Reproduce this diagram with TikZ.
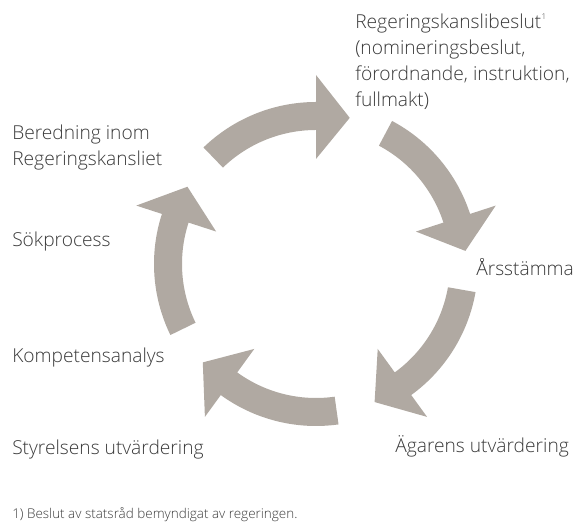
\documentclass[tikz,border=0pt]{standalone}
\usepackage{fontspec}
\IfFontExistsTF{Open Sans Light}{\setmainfont{Open Sans Light}}{\setmainfont{Open Sans}}
\definecolor{band}{RGB}{176,169,162}
\definecolor{ink}{RGB}{58,58,58}
\begin{document}
\begin{tikzpicture}[x=0.75pt,y=0.75pt,
  lbl/.style={anchor=base west, inner sep=0pt, text=ink, align=left,
    font=\fontsize{14.4}{19.5}\selectfont},
  note/.style={anchor=base west, inner sep=0pt, text=ink,
    font=\fontsize{10.1}{12}\selectfont}]
\useasboundingbox (0,0) rectangle (575,527);

% five curved arrows forming the cycle
\foreach \k in {0,...,4}{
  \pgfmathsetmacro\ta{134-72*\k}
  \pgfmathsetmacro\tb{90-72*\k}
  \pgfmathsetmacro\tc{77-72*\k}
  \fill[band, shift={(316,263)}]
    (\ta:162) arc[start angle=\ta, end angle=\tb, radius=162]
    -- (\tb:189) -- (\tc:150) -- (\tb:105) -- (\tb:134)
    arc[start angle=\tb, end angle=\ta, radius=134] -- cycle;
}

% stage labels (multi-line nodes sit on the baseline of their last line)
\node[lbl] (rkb) at (355,420) {Regeringskanslibeslut\kern0.3pt\raisebox{0.9ex}{\fontsize{6}{6}\selectfont 1}\\(nomineringsbeslut,\\förordnande, instruktion,\\fullmakt)};
\node[lbl] (ars) at (476,251) {Årsstämma};
\node[lbl] (agu) at (395,74) {Ägarens utvärdering};
\node[lbl] (sty) at (12,72) {Styrelsens utvärdering};
\node[lbl] (kom) at (12,164) {Kompetensanalys};
\node[lbl] (sok) at (12,280) {Sökprocess};
\node[lbl] (ber) at (12,361) {Beredning inom\\Regeringskansliet};

% footnote
\node[note] (fn) at (12,8) {1) Beslut av statsråd bemyndigat av regeringen.};
\end{tikzpicture}
\end{document}
